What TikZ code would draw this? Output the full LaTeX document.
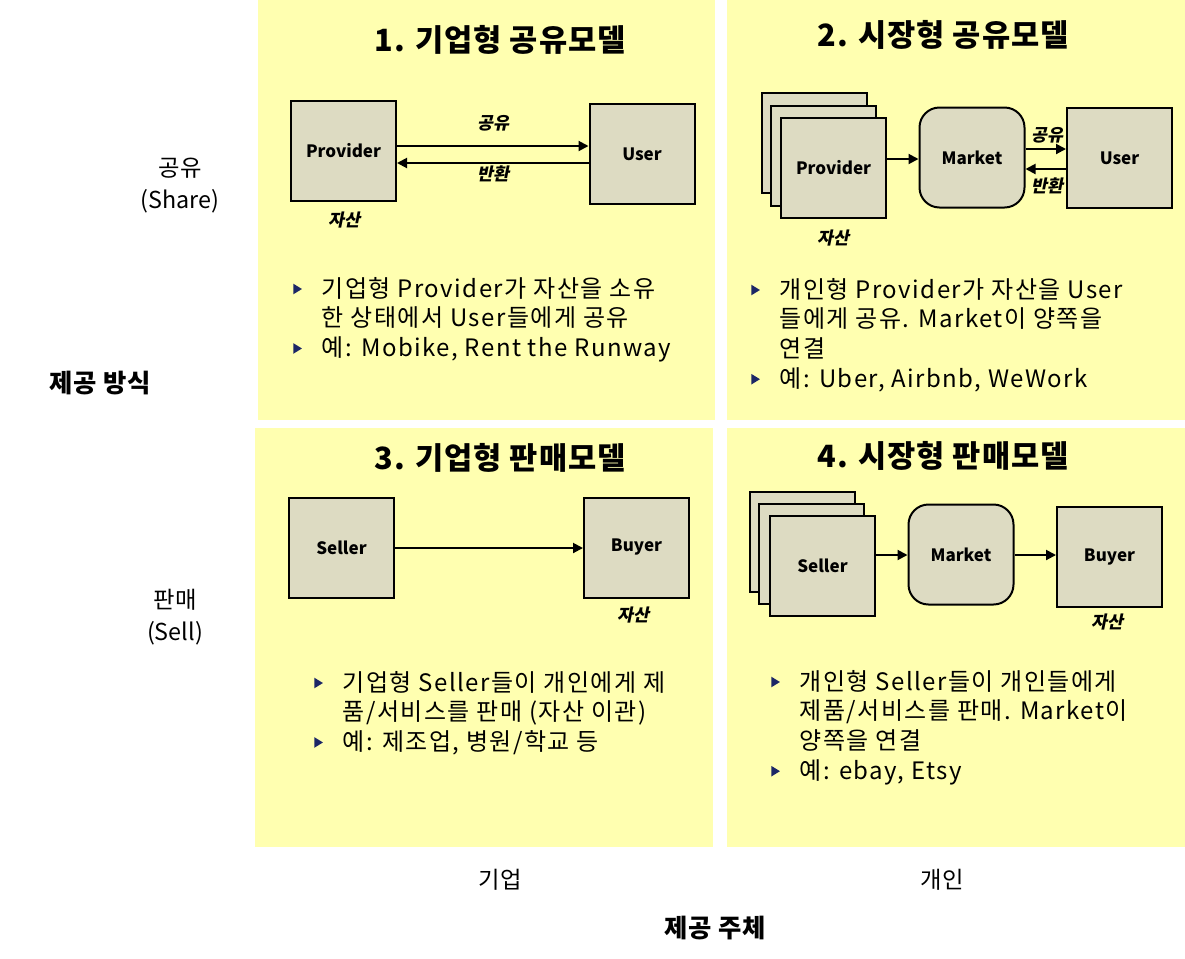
\documentclass[tikz,border=0pt]{standalone}
\usepackage{fontspec}
\setmainfont{Noto Sans CJK KR}
\newfontfamily\krslant{Noto Sans CJK KR}[FakeSlant=0.2]
\newfontfamily\kbul{Noto Sans CJK KR}[LetterSpace=6]
\newfontfamily\kwide{Noto Sans CJK KR}[LetterSpace=3]
\usetikzlibrary{arrows.meta}
\definecolor{qbg}{HTML}{FFFFB0}
\definecolor{boxfill}{HTML}{DDDBC2}
\definecolor{navy}{HTML}{1C2766}
\newcommand{\tri}{\tikz[baseline=0pt]\fill[navy] (0pt,2pt)--(0pt,10pt)--(6.5pt,6pt)--cycle;}
\newcommand{\bl}[1]{\begin{tabular}[t]{@{}l@{\hspace{15pt}}l@{}}#1\end{tabular}}
\begin{document}
\begin{tikzpicture}[x=0.75pt,y=-0.75pt,
  title/.style={font=\kwide\fontsize{23}{28}\selectfont\bfseries},
  bul/.style={font=\kbul\fontsize{18}{22.3}\selectfont, anchor=base west, inner sep=0pt},
  side/.style={font=\fontsize{17.5}{24}\selectfont, align=center},
  sideb/.style={font=\kwide\fontsize{19}{24}\selectfont\bfseries},
  box/.style={draw=black, line width=1.5pt, fill=boxfill, minimum width=78.75pt, minimum height=75pt,
    inner sep=0pt, font=\fontsize{12.75}{15}\selectfont\bfseries},
  mkt/.style={box, rounded corners=15pt},
  lbl/.style={font=\fontsize{13}{15}\selectfont\krslant\bfseries, inner sep=0pt},
  arr/.style={line width=1.5pt, -{Triangle[length=7.5pt,width=7.5pt]}}
]
\fill[white] (0,0) rectangle (1185,958);
\useasboundingbox (0,0) rectangle (1185,958);
\fill[qbg] (258,0) rectangle (715,420);
\fill[qbg] (727,0) rectangle (1185,420);
\fill[qbg] (255,428) rectangle (713,847);
\fill[qbg] (727,428) rectangle (1185,847);

% side labels
\node[side] (s1) at (180,186) {공유\\(Share)};
\node[side] (s2) at (175,617) {판매\\(Sell)};
\node[sideb] (s3) at (100,383) {제공 방식};
\node[side] (s4) at (500,880) {기업};
\node[side] (s5) at (942,880) {개인};
\node[sideb] (s6) at (715,928) {제공 주체};

% titles
\node[title] (t1) at (500,40) {1. 기업형 공유모델};
\node[title] (t2) at (943,35) {2. 시장형 공유모델};
\node[title] (t3) at (500,458) {3. 기업형 판매모델};
\node[title] (t4) at (943,456) {4. 시장형 판매모델};

% Q1
\node[box] (p1) at (343.5,151) {Provider};
\node[box] (u1) at (642,154) {User};
\draw[arr] (p1.east |- 0,146) -- (u1.west |- 0,146);
\draw[arr] (u1.west |- 0,163) -- (p1.east |- 0,163);
\node[lbl] (l1) at (493,123) {공유};
\node[lbl] (l2) at (493,174) {반환};
\node[lbl] (l3) at (344,220) {자산};

% Q2
\node[box] (p2c) at (814,143) {};
\node[box] (p2b) at (823,155.5) {};
\node[box] (p2) at (833.5,168) {Provider};
\node[mkt] (m2) at (972,157.5) {Market};
\node[box] (u2) at (1119.5,158) {User};
\draw[arr] (p2.east |- 0,159) -- (m2.west |- 0,159);
\draw[arr] (m2.east |- 0,149) -- (u2.west |- 0,149);
\draw[arr] (u2.west |- 0,169) -- (m2.east |- 0,169);
\node[lbl] (l4) at (1047,135) {공유};
\node[lbl] (l5) at (1047,186) {반환};
\node[lbl] (l6) at (833,238) {자산};

% Q3
\node[box] (s3b) at (341.5,547.5) {Seller};
\node[box] (b3) at (636.5,547.5) {Buyer};
\draw[arr] (s3b.east |- 0,548) -- (b3.west |- 0,548);
\node[lbl] (l7) at (633,615) {자산};

% Q4
\node[box] (s4c) at (802,542) {};
\node[box] (s4b) at (811,553.5) {};
\node[box] (s4f) at (822.5,566) {Seller};
\node[mkt] (m4) at (961,554.5) {Market};
\node[box] (b4) at (1109.5,557) {Buyer};
\draw[arr] (s4f.east |- 0,555) -- (m4.west |- 0,555);
\draw[arr] (m4.east |- 0,555) -- (b4.west |- 0,555);
\node[lbl] (l8) at (1107,622) {자산};

% bullets
\node[bul] (bt1) at (293,297) {\bl{\tri & 기업형 Provider가 자산을 소유\\ & 한 상태에서 User들에게 공유\\ \tri & 예: Mobike, Rent the Runway}};
\node[bul] (bt2) at (751,298) {\bl{\tri & 개인형 Provider가 자산을 User\\ & 들에게 공유. Market이 양쪽을\\ & 연결\\ \tri & 예: Uber, Airbnb, WeWork}};
\node[bul] (bt3) at (314,691) {\bl{\tri & 기업형 Seller들이 개인에게 제\\ & 품/서비스를 판매 (자산 이관)\\ \tri & 예: 제조업, 병원/학교 등}};
\node[bul] (bt4) at (771,690) {\bl{\tri & 개인형 Seller들이 개인들에게\\ & 제품/서비스를 판매. Market이\\ & 양쪽을 연결\\ \tri & 예: ebay, Etsy}};
\end{tikzpicture}
\end{document}
